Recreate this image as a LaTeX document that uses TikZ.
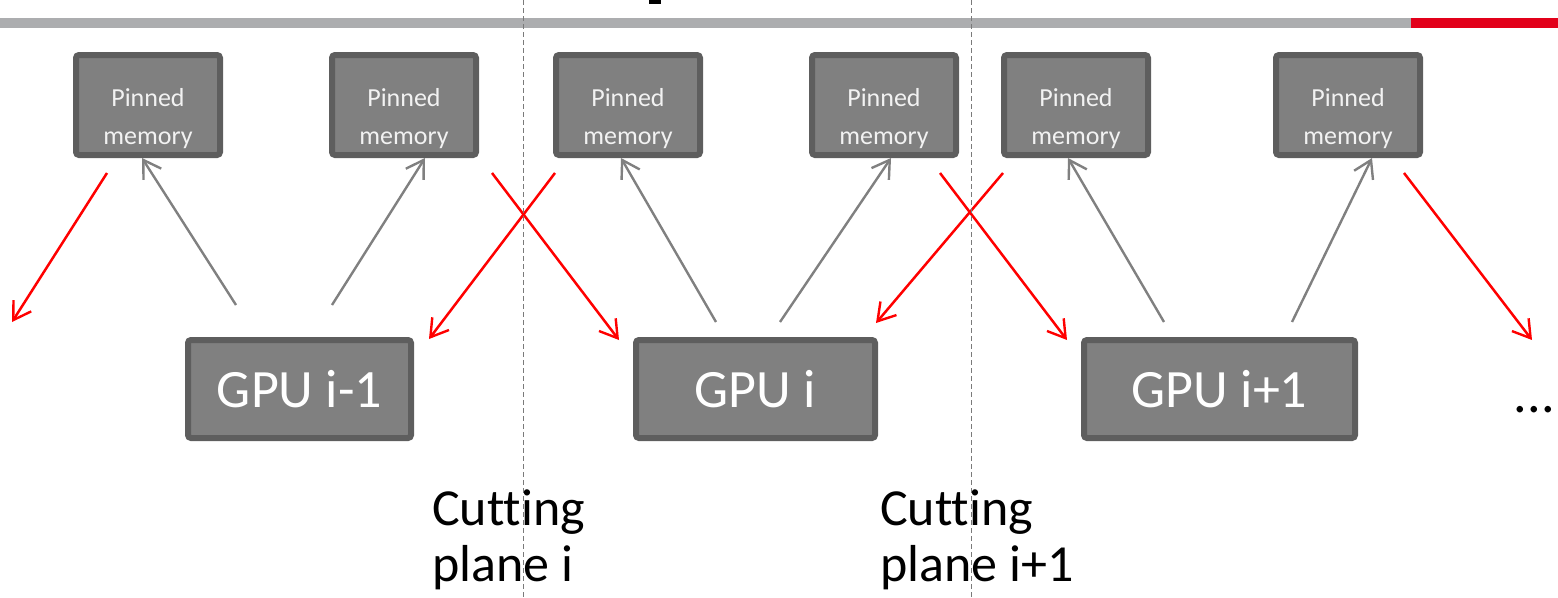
\documentclass[tikz,border=0pt]{standalone}
\usepackage{fontspec}
\setmainfont[Ligatures={NoCommon}]{Carlito}
\usetikzlibrary{arrows.meta}
\definecolor{boxfill}{HTML}{808080}
\definecolor{boxline}{HTML}{5E5E5E}
\definecolor{bargray}{HTML}{ACADAF}
\definecolor{barred}{HTML}{E2001A}
\definecolor{arrgray}{HTML}{808080}
\definecolor{arrred}{HTML}{FF0000}
\definecolor{cutgray}{HTML}{7A7A7A}
\tikzset{
  pinbox/.style={draw=boxline, fill=boxfill, line width=6pt, rounded corners=3pt,
    minimum width=144pt, minimum height=100pt, inner sep=0pt},
  pintext/.style={text=white!95!black, font=\fontsize{26}{38}\selectfont, align=center, inner sep=0pt},
  gpubox/.style={draw=boxline, fill=boxfill, line width=6pt, rounded corners=3pt,
    minimum height=98pt, inner sep=0pt, text=white, font=\fontsize{54}{60}\selectfont},
  barb/.style={-{Straight Barb[length=17pt,width=21pt,line width=2.4pt]}},
  gline/.style={draw=arrgray, line width=2.4pt, barb},
  rline/.style={draw=arrred, line width=2.5pt, barb},
  cutline/.style={draw=cutgray, line width=1.4pt, dash pattern=on 5pt off 3pt},
  cutlabel/.style={font=\fontsize{52}{56}\selectfont, align=left, anchor=north west, inner sep=0pt}
}
\begin{document}
\begin{tikzpicture}[x=1pt,y=-1pt]
\useasboundingbox (0,0) rectangle (1558,597);
% top bar
\fill[bargray] (0,18) rectangle (1411,27.5);
\fill[barred] (1411,18) rectangle (1558,27.5);
\fill[black] (649,0) rectangle (661,4);
% pinned memory boxes
\node[pinbox] (p1) at (148,105) {};
\node[pinbox] (p2) at (404,105) {};
\node[pinbox] (p3) at (628,105) {};
\node[pinbox] (p4) at (884,105) {};
\node[pinbox] (p5) at (1076,105) {};
\node[pinbox] (p6) at (1348,105) {};
\foreach \n in {1,...,6}{
  \node[pintext] (t\n) at ([yshift=-14pt]p\n.center) {Pinned\\memory};
}
% GPU boxes
\node[gpubox, minimum width=223pt] (g1) at (299.5,389) {GPU i-1};
\node[gpubox, minimum width=239pt] (g2) at (755.5,389) {GPU i};
\node[gpubox, minimum width=271pt] (g3) at (1219.5,389) {GPU i+1};
\node[font=\fontsize{54}{60}\selectfont, anchor=base east, inner sep=0pt] (dots) at (1555,412) {...};
% free ends
\coordinate (lfree) at (12,322);
\coordinate (rfree) at (1532,340);
% gray arrows GPU -> pinned
\draw[gline] ([shift={(-63.5,-32)}]g1.north) -- ([shift={(-6,0)}]p1.south);
\draw[gline] ([shift={(32.5,-32)}]g1.north) -- ([shift={(21,0)}]p2.south);
\draw[gline] ([shift={(-39.5,-15)}]g2.north) -- ([shift={(-7,0)}]p3.south);
\draw[gline] ([shift={(24.5,-15)}]g2.north) -- ([shift={(7,0)}]p4.south);
\draw[gline] ([shift={(-55.5,-15)}]g3.north) -- ([shift={(-8,0)}]p5.south);
\draw[gline] ([shift={(72.5,-15)}]g3.north) -- ([shift={(24,0)}]p6.south);
% red arrows pinned -> GPU
\draw[rline] ([shift={(-41,15)}]p1.south) -- (lfree);
\draw[rline] ([shift={(-73,15)}]p3.south) -- ([shift={(15,2)}]g1.north east);
\draw[rline] ([shift={(88,15)}]p2.south) -- ([shift={(-14,3)}]g2.north west);
\draw[rline] ([shift={(-73,15)}]p5.south) -- ([shift={(-2,-14)}]g2.north east);
\draw[rline] ([shift={(56,15)}]p4.south) -- ([shift={(-14,3)}]g3.north west);
\draw[rline] ([shift={(56,15)}]p6.south) -- (rfree);
% cutting planes
\coordinate (c1top) at (523.5,0);
\coordinate (c1bot) at (523.5,597);
\coordinate (c2top) at (971.5,0);
\coordinate (c2bot) at (971.5,597);
\draw[cutline] (c1top) -- (c1bot);
\draw[cutline] (c2top) -- (c2bot);
\node[cutlabel] (l1) at (432,490) {Cutting\\plane i};
\node[cutlabel] (l2) at (880,490) {Cutting\\plane i+1};
\end{tikzpicture}
\end{document}
